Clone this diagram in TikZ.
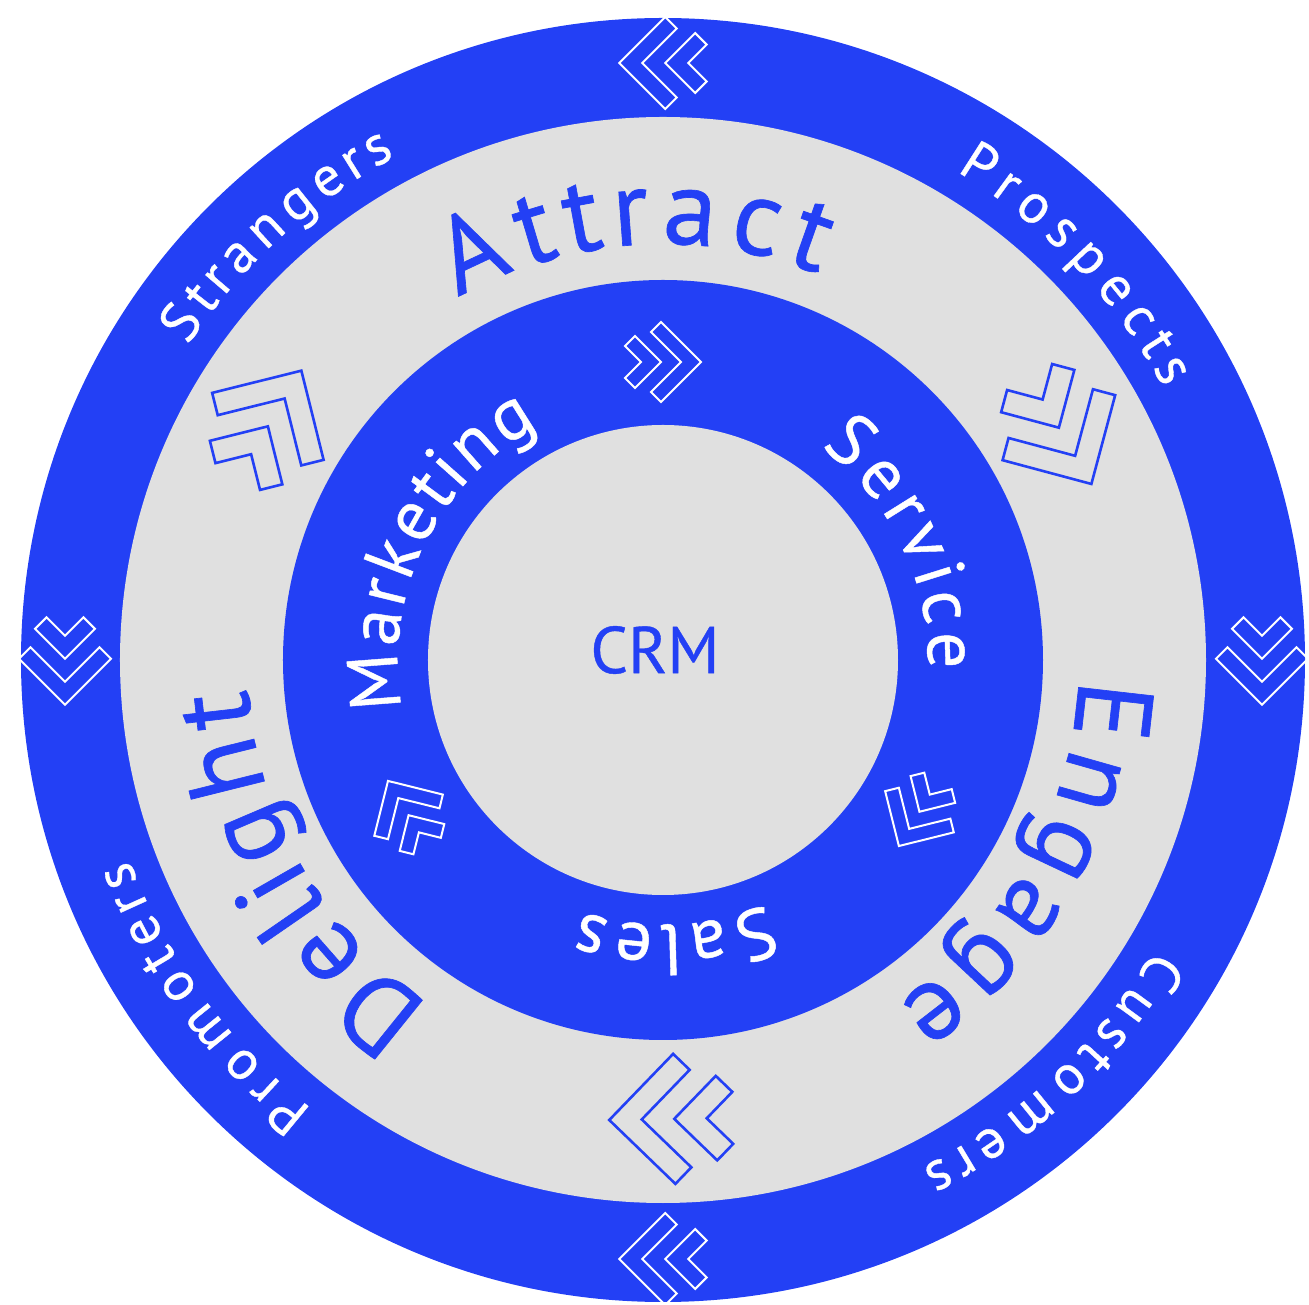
\documentclass[tikz,border=0pt]{standalone}
\usepackage{fontspec}
\setmainfont{PT Sans}[FakeBold=0.6]
\usetikzlibrary{decorations.text}
\definecolor{hubblue}{RGB}{35,64,245}
\definecolor{hubgray}{RGB}{224,224,224}

\begin{document}
\begin{tikzpicture}[x=1pt, y=1pt,
    pics/chev/.style={code={
      \draw (0.95,0) -- (-0.05,1) -- (-0.3,0.75) -- (0.45,0) -- (-0.3,-0.75) -- (-0.05,-1) -- cycle;
      \draw (-0.05,0) -- (-0.7,0.65) -- (-0.95,0.4) -- (-0.55,0) -- (-0.95,-0.4) -- (-0.7,-0.65) -- cycle;
    }}]
    \useasboundingbox (-663,-645) rectangle (646,660);

    \fill[hubblue] (0,0) circle[radius=642];
    \fill[hubgray] (0,0) circle[radius=543];
    \fill[hubblue] (0,0) circle[radius=380];
    \fill[hubgray] (0,0) circle[radius=235];

    % chevrons
    \pic[white, line width=2pt, rotate=180, scale=46] at (0,597) {chev};
    \pic[white, line width=2pt, rotate=180, scale=46] at (0,-599) {chev};
    \pic[white, line width=2pt, rotate=-90, scale=46] at (599,-1) {chev};
    \pic[white, line width=2pt, rotate=-90, scale=46] at (-598,-1) {chev};
    \foreach \ang in {149,30,271}
      \pic[hubblue, line width=2.6pt, rotate=\ang-90, scale=65] at (\ang:459) {chev};
    \foreach \ang in {90,211,329}
      \pic[white, line width=2pt, rotate=\ang-90, scale=40] at (\ang:298) {chev};

    % ring labels
    \foreach \ra/\sa/\ea/\fs/\tc/\tx in {
        570/146.5/118/56/white/Strangers, 570/59/28.5/56/white/Prospects,
        570/-30.5/-63/56/white/Customers, 570/232/200.5/56/white/Promoters,
        416/119.5/68/108/hubblue/Attract, 416/-2.5/-56/108/hubblue/Engage,
        416/236/184/108/hubblue/Delight,
        265/190.5/118/72/white/Marketing, 265/53.5/-2/72/white/Service,
        265/-67/-108/72/white/Sales}
      \path[decorate, decoration={text effects along path, text/.expanded=\tx,
          text effects/.cd, text along path, fit text to path,
          characters={text=\tc, font=\fontsize{\fs}{\fs}\selectfont}}]
        (\sa:\ra) arc[start angle=\sa, end angle=\ea, radius=\ra];

    \node[text=hubblue, font=\fontsize{66}{66}\selectfont] (crm) at (-8,10) {CRM};
\end{tikzpicture}
\end{document}
